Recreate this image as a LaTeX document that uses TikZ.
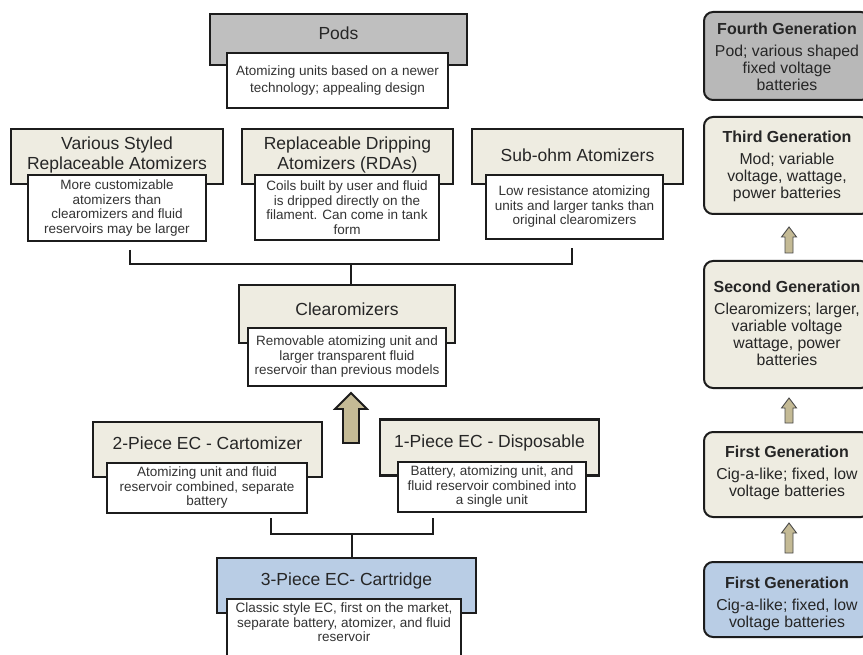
\documentclass[tikz,border=0pt]{standalone}
\usepackage{fontspec}
\setmainfont{Liberation Sans}
\definecolor{beige}{HTML}{EEECE1}
\definecolor{graypod}{HTML}{BFBFBF}
\definecolor{grayfour}{HTML}{B8B8B8}
\definecolor{bluebox}{HTML}{B9CDE5}
\definecolor{tanarrow}{HTML}{C4BA95}
\definecolor{linec}{HTML}{1C1C1C}
\definecolor{txt}{HTML}{262626}
\definecolor{txtd}{HTML}{333333}
\newcommand\myuparrow[3]{%
  \draw[smallarrow] (#1,#2) -- (#1+7.5,#2+10) -- (#1+4,#2+10) -- (#1+4,#3) -- (#1-4,#3) -- (#1-4,#2+10) -- (#1-7.5,#2+10) -- cycle;}
\begin{document}
\begin{tikzpicture}[x=1pt,y=-1pt,
  box/.style={draw=linec, line width=2.3pt, inner sep=0pt, outer sep=0pt},
  hdr/.style={box, fill=beige},
  ttl/.style={font=\fontsize{17.5}{20}\selectfont, text=txt, align=center, inner sep=0pt},
  dsc/.style={box, fill=white, font=\fontsize{13.5}{14.5}\selectfont, text=txtd, align=center},
  dtxt/.style={font=\fontsize{13.5}{14.5}\selectfont, text=txtd, align=center, inner sep=0pt},
  conn/.style={draw=linec, line width=2pt},
  bigarrow/.style={fill=tanarrow, draw=linec, line width=1.8pt, line join=miter},
  smallarrow/.style={fill=tanarrow, draw=linec!80, line width=0.9pt, line join=miter},
  gen/.style={draw=linec, line width=2pt, rounded corners=9pt, inner sep=0pt, minimum width=166pt},
  gtitle/.style={font=\bfseries\fontsize{16}{18}\selectfont, text=txt, inner sep=0pt},
  gbody/.style={font=\fontsize{15.8}{17}\selectfont, text=txt, align=center, inner sep=0pt}]
\clip (0,0) rectangle (863,655);
\fill[white] (0,0) rectangle (863,655);

% Pods
\node[box, fill=graypod, minimum width=257pt, minimum height=51pt] (podsH) at (338.5,39.5) {};
\node[ttl] (podsT) at (338.5,33) {Pods};
\node[dsc, minimum width=221pt, minimum height=55pt, font=\fontsize{13.5}{16.5}\selectfont] (podsD) at (337.5,80.5)
  {Atomizing units based on a newer\\technology; appealing design};

% Various styled
\node[hdr, minimum width=212pt, minimum height=55pt] (varH) at (117,156.5) {};
\node[ttl] (varT) at (117,155) {Various Styled\\Replaceable Atomizers};
\node[dsc, minimum width=178pt, minimum height=66pt] (varD) at (117,208)
  {More customizable\\atomizers than\\clearomizers and fluid\\reservoirs may be larger};

% RDA
\node[hdr, minimum width=211pt, minimum height=55pt] (rdaH) at (347.5,156.5) {};
\node[ttl] (rdaT) at (347.5,155) {Replaceable Dripping\\Atomizers (RDAs)};
\node[dsc, minimum width=184pt, minimum height=65pt] (rdaD) at (347,207.5)
  {Coils built by user and fluid\\is dripped directly on the\\filament. Can come in tank\\form};

% Sub-ohm
\node[hdr, minimum width=211pt, minimum height=55pt] (subH) at (577.5,156.5) {};
\node[ttl] (subT) at (577.5,155) {Sub-ohm Atomizers};
\node[dsc, minimum width=177pt, minimum height=64pt] (subD) at (574.5,207)
  {Low resistance atomizing\\units and larger tanks than\\original clearomizers};

% Clearomizers
\node[hdr, minimum width=216pt, minimum height=58pt] (clearH) at (347,314) {};
\node[ttl] (clearT) at (347,309) {Clearomizers};
\node[dsc, minimum width=198pt, minimum height=58pt] (clearD) at (347,357)
  {Removable atomizing unit and\\larger transparent fluid\\reservoir than previous models};

% top connector
\coordinate (c1a) at (130,250);
\coordinate (c1b) at (572,248);
\coordinate (c1m) at (351,264);
\draw[conn] (c1a) |- (c1m) -| (c1b);
\draw[conn] (c1m) -- (c1m |- clearH.north);

% big arrow
\draw[bigarrow] (351,393) -- (367,409) -- (359,409) -- (359,443) -- (343,443) -- (343,409) -- (335,409) -- cycle;

% 2-piece
\node[hdr, minimum width=229pt, minimum height=55pt] (twoH) at (207.5,449.5) {};
\node[ttl] (twoT) at (207.5,443) {2-Piece EC - Cartomizer};
\node[dsc, minimum width=200pt, minimum height=50pt] (twoD) at (207,488)
  {Atomizing unit and fluid\\reservoir combined, separate\\battery};

% 1-piece
\node[hdr, minimum width=219pt, minimum height=56pt] (oneH) at (489.5,447.5) {};
\node[ttl] (oneT) at (489.5,443) {1-Piece EC - Disposable};
\node[dsc, minimum width=188pt, minimum height=50pt] (oneD) at (492,487)
  {Battery, atomizing unit, and\\fluid reservoir combined into\\a single unit};

% bottom connector
\coordinate (c2a) at (271,518);
\coordinate (c2b) at (433,518);
\coordinate (c2m) at (352,534);
\draw[conn] (c2a) |- (c2m) -| (c2b);

% 3-piece
\node[box, fill=bluebox, minimum width=259pt, minimum height=55pt] (cartH) at (346.5,585.5) {};
\draw[conn] (c2m) -- (c2m |- cartH.north);
\node[ttl] (cartT) at (346.5,581) {3-Piece EC- Cartridge};
\node[box, fill=white, minimum width=234pt, minimum height=70pt] (cartD) at (344,634) {};
\node[dtxt] (cartDT) at (344,622.5)
  {Classic style EC, first on the market,\\separate battery, atomizer, and fluid\\reservoir};

% right column
\node[gen, fill=grayfour, minimum height=88pt] (g4) at (787,56) {};
\node[gtitle] (g4t) at (787,29) {Fourth Generation};
\node[gbody] (g4b) at (787,67.5) {Pod; various shaped\\fixed voltage\\batteries};

\node[gen, fill=beige, minimum height=97pt] (g3) at (787,165.5) {};
\node[gtitle] (g3t) at (787,137) {Third Generation};
\node[gbody] (g3b) at (787,177) {Mod; variable\\voltage, wattage,\\power batteries};

\myuparrow{789}{227}{253}

\node[gen, fill=beige, minimum height=127pt] (g2) at (787,324.5) {};
\node[gtitle] (g2t) at (787,287) {Second Generation};
\node[gbody] (g2b) at (787,334.5) {Clearomizers; larger,\\variable voltage\\wattage, power\\batteries};

\myuparrow{789}{398}{423}

\node[gen, fill=beige, minimum height=85pt] (g1) at (787,474.5) {};
\node[gtitle] (g1t) at (787,452) {First Generation};
\node[gbody] (g1b) at (787,483.5) {Cig-a-like; fixed, low\\voltage batteries};

\myuparrow{789}{523}{553}

\node[gen, fill=bluebox, minimum height=75pt] (g0) at (787,599.5) {};
\node[gtitle] (g0t) at (787,583) {First Generation};
\node[gbody] (g0b) at (787,615) {Cig-a-like; fixed, low\\voltage batteries};
\end{tikzpicture}
\end{document}
